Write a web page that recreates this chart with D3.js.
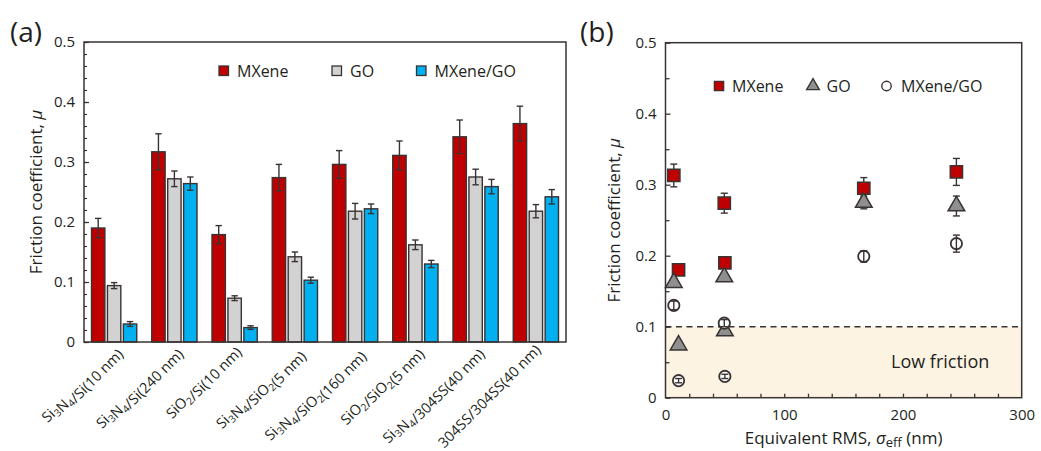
<!DOCTYPE html>
<html>
<head>
<meta charset="utf-8">
<script src="https://cdn.jsdelivr.net/npm/d3@7"></script>
<style>
  body { margin: 0; background: #fff; }
  text { font-family: 'Open Sans', sans-serif; fill: #231f20; }
</style>
</head>
<body>
<svg id="chart" width="1041" height="451"></svg>
<script>
// ---- data, panel (a) ----
const categories = ['Si3N4/Si(10 nm)', 'Si3N4/Si(240 nm)', 'SiO2/Si(10 nm)', 'Si3N4/SiO2(5 nm)',
  'Si3N4/SiO2(160 nm)', 'SiO2/SiO2(5 nm)', 'Si3N4/304SS(40 nm)', '304SS/304SS(40 nm)']
const seriesNames = ['MXene', 'GO', 'MXene/GO']
const mxene = [0.190, 0.317, 0.179, 0.274, 0.296, 0.311, 0.342, 0.364]
const mxeneErr = [0.016, 0.030, 0.015, 0.022, 0.023, 0.024, 0.028, 0.029]
const go = [0.094, 0.272, 0.073, 0.142, 0.218, 0.162, 0.275, 0.218]
const goErr = [0.005, 0.013, 0.004, 0.008, 0.013, 0.008, 0.013, 0.011]
const mxeneGo = [0.030, 0.264, 0.024, 0.103, 0.222, 0.130, 0.259, 0.242]
const mxeneGoErr = [0.004, 0.011, 0.003, 0.005, 0.008, 0.006, 0.012, 0.012]
const yTicks = [0, 0.1, 0.2, 0.3, 0.4, 0.5]

// ---- data, panel (b) ----
const rms = [7, 11, 49.5, 50, 167, 245]
const mxeneB = [0.313, 0.180, 0.274, 0.190, 0.295, 0.318]
const mxeneBErr = [0.016, 0.006, 0.014, 0.006, 0.015, 0.019]
const goB = [0.162, 0.074, 0.170, 0.094, 0.275, 0.270]
const goBErr = [0.006, 0.004, 0.005, 0.005, 0.009, 0.014]
const mxeneGoB = [0.130, 0.024, 0.105, 0.030, 0.199, 0.217]
const mxeneGoBErr = [0.006, 0.003, 0.005, 0.003, 0.008, 0.012]
const xTicksB = [0, 100, 200, 300]
const lowFriction = 0.1

const COLORS = { MXene: '#c00000', GO: '#d2d2d2', 'MXene/GO': '#00b0f0' }
const INK = '#3a3333'
const A = { left: 84, right: 566, top: 42, bottom: 342 }
const B = { left: 665.5, right: 1021.7, top: 42.7, bottom: 397.7 }

const svg = d3.select('#chart')
const fmt = d => d === 0 ? '0' : d3.format('.1f')(d)

// write "Si3N4" style strings with subscript digits (digit right after a letter)
const addSubText = (sel, str, size) => {
  let buf = ''
  const flush = () => { if (buf) { sel.append('tspan').text(buf); buf = '' } }
  for (let i = 0; i < str.length; i++) {
    const ch = str[i]
    const isSub = /\d/.test(ch) && i > 0 && /[A-Za-z]/.test(str[i - 1])
    if (isSub) {
      flush()
      sel.append('tspan').attr('dy', 3).attr('font-size', size * 0.7).text(ch)
      sel.append('tspan').attr('dy', -3).text('')
    } else buf += ch
  }
  flush()
}

const errBar = (g, x, y0, y1, cap) => {
  g.append('line').attr('x1', x).attr('x2', x).attr('y1', y0).attr('y2', y1)
  g.append('line').attr('x1', x - cap).attr('x2', x + cap).attr('y1', y0).attr('y2', y0)
  g.append('line').attr('x1', x - cap).attr('x2', x + cap).attr('y1', y1).attr('y2', y1)
}

// ================= panel (a) =================
const xa = d3.scaleBand().domain(categories).range([A.left, A.right])
const xs = d3.scaleBand().domain(seriesNames).range([7.5, xa.bandwidth() - 7.5]).paddingInner(0.16)
const ya = d3.scaleLinear().domain([0, 0.5]).range([A.bottom, A.top])

const rowsA = categories.map((c, i) => ({
  cat: c,
  vals: [
    { s: 'MXene', v: mxene[i], e: mxeneErr[i] },
    { s: 'GO', v: go[i], e: goErr[i] },
    { s: 'MXene/GO', v: mxeneGo[i], e: mxeneGoErr[i] },
  ],
}))

const groupsA = svg.append('g').selectAll('g')
  .data(rowsA).enter().append('g')
  .attr('transform', d => 'translate(' + xa(d.cat) + ',0)')

groupsA.selectAll('rect')
  .data(d => d.vals).enter().append('rect')
  .attr('x', d => xs(d.s))
  .attr('y', d => ya(d.v))
  .attr('width', xs.bandwidth())
  .attr('height', d => A.bottom - ya(d.v))
  .attr('fill', d => COLORS[d.s])
  .attr('stroke', INK)
  .attr('stroke-width', 1.4)

groupsA.each(function (d) {
  const g = d3.select(this).append('g').attr('stroke', INK).attr('stroke-width', 1.4)
  d.vals.forEach(p => {
    const cx = xs(p.s) + xs.bandwidth() / 2
    errBar(g, cx, ya(p.v + p.e), ya(p.v - p.e), 3.2)
  })
})

// axes (a)
svg.append('g')
  .attr('transform', 'translate(' + A.left + ',0)')
  .call(d3.axisLeft(ya).tickValues(d3.range(0, 0.5001, 0.02)).tickSize(-3).tickFormat(''))
  .call(g => g.select('.domain').remove())
  .selectAll('line').attr('stroke', INK).attr('stroke-width', 1.2)

svg.append('g')
  .attr('transform', 'translate(' + A.left + ',0)')
  .call(d3.axisLeft(ya).tickValues(yTicks).tickSize(-5).tickPadding(9).tickFormat(fmt))
  .call(g => g.select('.domain').remove())
  .call(g => g.selectAll('line').attr('stroke', INK).attr('stroke-width', 1.2))
  .call(g => g.selectAll('text').attr('font-size', 15).attr('font-family', null).attr('fill', null))

svg.append('rect')
  .attr('x', A.left).attr('y', A.top)
  .attr('width', A.right - A.left).attr('height', A.bottom - A.top)
  .attr('fill', 'none').attr('stroke', INK).attr('stroke-width', 1.5)

categories.forEach(c => {
  const cx = xa(c) + xa.bandwidth() / 2 + 6
  const t = svg.append('text')
    .attr('transform', 'translate(' + cx + ',351) rotate(-45)')
    .attr('text-anchor', 'end')
    .attr('font-size', 14.5)
  addSubText(t, c, 14.5)
})

svg.append('text')
  .attr('transform', 'translate(42,' + ((A.top + A.bottom) / 2) + ') rotate(-90)')
  .attr('text-anchor', 'middle')
  .attr('font-size', 17)
  .call(t => {
    t.append('tspan').text('Friction coefficient, ')
    t.append('tspan').attr('font-style', 'italic').text('μ')
  })

// legend (a)
const legA = [{ s: 'MXene', x: 219 }, { s: 'GO', x: 332 }, { s: 'MXene/GO', x: 416.5 }]
legA.forEach(l => {
  svg.append('rect').attr('x', l.x).attr('y', 66).attr('width', 9.5).attr('height', 9.5)
    .attr('fill', COLORS[l.s]).attr('stroke', INK).attr('stroke-width', 1.3)
  svg.append('text').attr('x', l.x + 18).attr('y', 76.5).attr('font-size', 16).text(l.s)
})

svg.append('text').attr('x', 10).attr('y', 42).attr('font-size', 28).text('(a)')

// ================= panel (b) =================
const xb = d3.scaleLinear().domain([0, 300]).range([B.left, B.right])
const yb = d3.scaleLinear().domain([0, 0.5]).range([B.bottom, B.top])

svg.append('rect')
  .attr('x', B.left).attr('y', yb(lowFriction))
  .attr('width', B.right - B.left).attr('height', B.bottom - yb(lowFriction))
  .attr('fill', '#fdf3e3')

svg.append('line')
  .attr('x1', B.left).attr('x2', B.right)
  .attr('y1', yb(lowFriction)).attr('y2', yb(lowFriction))
  .attr('stroke', INK).attr('stroke-width', 1.5).attr('stroke-dasharray', '6,4.5')

svg.append('text').attr('x', 891).attr('y', 368).attr('font-size', 18).text('Low friction')

// axes (b)
svg.append('g')
  .attr('transform', 'translate(' + B.left + ',0)')
  .call(d3.axisLeft(yb).tickValues(d3.range(0.05, 0.5, 0.1)).tickSize(-4).tickFormat(''))
  .call(g => g.select('.domain').remove())
  .selectAll('line').attr('stroke', INK).attr('stroke-width', 1.3)

svg.append('g')
  .attr('transform', 'translate(' + B.left + ',0)')
  .call(d3.axisLeft(yb).tickValues(yTicks).tickSize(-5).tickPadding(9).tickFormat(fmt))
  .call(g => g.select('.domain').remove())
  .call(g => g.selectAll('line').attr('stroke', INK).attr('stroke-width', 1.3))
  .call(g => g.selectAll('text').attr('font-size', 15).attr('font-family', null).attr('fill', null))

svg.append('g')
  .attr('transform', 'translate(0,' + B.bottom + ')')
  .call(d3.axisBottom(xb).tickValues(d3.range(20, 300, 20)).tickSize(-4).tickFormat(''))
  .call(g => g.select('.domain').remove())
  .selectAll('line').attr('stroke', INK).attr('stroke-width', 1.3)

svg.append('g')
  .attr('transform', 'translate(0,' + B.bottom + ')')
  .call(d3.axisBottom(xb).tickValues(xTicksB).tickSize(0).tickPadding(12).tickFormat(d3.format('d')))
  .call(g => g.select('.domain').remove())
  .call(g => g.selectAll('text').attr('font-size', 15).attr('font-family', null).attr('fill', null))

svg.append('rect')
  .attr('x', B.left).attr('y', B.top)
  .attr('width', B.right - B.left).attr('height', B.bottom - B.top)
  .attr('fill', 'none').attr('stroke', INK).attr('stroke-width', 1.5)

svg.append('text')
  .attr('transform', 'translate(620,' + ((B.top + B.bottom) / 2) + ') rotate(-90)')
  .attr('text-anchor', 'middle')
  .attr('font-size', 17)
  .call(t => {
    t.append('tspan').text('Friction coefficient, ')
    t.append('tspan').attr('font-style', 'italic').text('μ')
  })

svg.append('text')
  .attr('x', (B.left + B.right) / 2).attr('y', 444)
  .attr('text-anchor', 'middle')
  .attr('font-size', 17)
  .call(t => {
    t.append('tspan').text('Equivalent RMS, ')
    t.append('tspan').attr('font-style', 'italic').text('σ')
    t.append('tspan').attr('dy', 3).attr('font-size', 13).text('eff')
    t.append('tspan').attr('dy', -3).text(' (nm)')
  })

// points (b)
const seriesB = [
  { s: 'MXene', vals: mxeneB, errs: mxeneBErr },
  { s: 'GO', vals: goB, errs: goBErr },
  { s: 'MXene/GO', vals: mxeneGoB, errs: mxeneGoBErr },
]
const symFor = { MXene: d3.symbolSquare, GO: d3.symbolTriangle, 'MXene/GO': d3.symbolCircle }
const fillFor = { MXene: '#c00000', GO: '#8f8f8f', 'MXene/GO': '#fff' }
const sizeFor = { MXene: 150, GO: 120, 'MXene/GO': 100 }

seriesB.forEach(ser => {
  const pts = rms.map((r, i) => ({ r, v: ser.vals[i], e: ser.errs[i] }))
  const g = svg.append('g')
  const drawErr = () => {
    const eg = g.append('g').attr('stroke', INK).attr('stroke-width', 1.4)
    pts.forEach(p => errBar(eg, xb(p.r), yb(p.v + p.e), yb(p.v - p.e), 3.5))
  }
  // open circles show their error bars through the marker, filled ones hide them
  if (ser.s !== 'MXene/GO') drawErr()
  g.selectAll('path')
    .data(pts).enter().append('path')
    .attr('d', d3.symbol().type(symFor[ser.s]).size(sizeFor[ser.s]))
    .attr('transform', d => 'translate(' + xb(d.r) + ',' + yb(d.v) + ')')
    .attr('fill', fillFor[ser.s])
    .attr('stroke', INK)
    .attr('stroke-width', ser.s === 'MXene/GO' ? 1.8 : 1.5)
  if (ser.s === 'MXene/GO') drawErr()
})

// legend (b)
const legB = [{ s: 'MXene', x: 719, tx: 732 }, { s: 'GO', x: 813, tx: 826.5 }, { s: 'MXene/GO', x: 886.5, tx: 901 }]
legB.forEach(l => {
  svg.append('path')
    .attr('d', d3.symbol().type(symFor[l.s]).size(l.s === 'MXene' ? 85 : 70))
    .attr('transform', 'translate(' + l.x + ',86)')
    .attr('fill', fillFor[l.s]).attr('stroke', INK).attr('stroke-width', 1.4)
  svg.append('text').attr('x', l.tx).attr('y', 91.5).attr('font-size', 16).text(l.s)
})

svg.append('text').attr('x', 580).attr('y', 42).attr('font-size', 28).text('(b)')
</script>
</body>
</html>
